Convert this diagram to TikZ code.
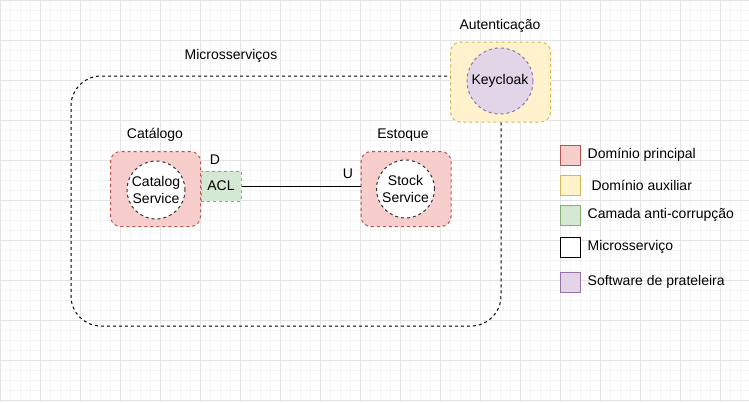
\documentclass[tikz,border=0pt]{standalone}
\usepackage{fontspec}
\setmainfont{Liberation Sans}
\usetikzlibrary{positioning}

\definecolor{gridmajor}{HTML}{E3E3E3}
\definecolor{gridminor}{HTML}{F4F4F4}
\definecolor{redfill}{HTML}{F8CECC}
\definecolor{redline}{HTML}{B85450}
\definecolor{yelfill}{HTML}{FFF2CC}
\definecolor{yelline}{HTML}{D6B656}
\definecolor{grnfill}{HTML}{D5E8D4}
\definecolor{grnline}{HTML}{82B366}
\definecolor{purfill}{HTML}{E1D5E7}
\definecolor{purline}{HTML}{9673A6}

\begin{document}
\begin{tikzpicture}[x=1pt,y=-1pt,
	font=\fontsize{14}{17}\selectfont,
	dashbox/.style={draw,line width=1pt,dash pattern=on 3pt off 3pt,align=center,inner sep=0pt},
	domainbox/.style={dashbox,rounded corners=10pt,fill=redfill,draw=redline,minimum width=90pt,minimum height=75pt},
	service/.style={dashbox,circle,fill=white,draw=black!80,minimum size=58pt},
	legbox/.style={draw,line width=1pt,minimum size=20pt,inner sep=0pt},
	legtext/.style={anchor=west,inner sep=0pt}]
			\useasboundingbox (0,0) rectangle (749,402);
			\draw[step=10pt,gridminor,line width=1pt] (0,0) grid (749,402);
			\draw[step=40pt,gridmajor,line width=1pt] (0,0) grid (749,402);
			% microservices frame
			\node[dashbox,rounded corners=30pt,minimum width=430pt,minimum height=250pt] (micro) at (286,201) {};
			\node (microlbl) at (231,56) {Microsserviços};
			% authentication
			\node[dashbox,rounded corners=10pt,fill=yelfill,draw=yelline,minimum width=100pt,minimum height=80pt] (auth) at (500.5,82) {};
			\node[dashbox,circle,fill=purfill,draw=purline,minimum size=66pt] (keycloak) at (500,81) {Keycloak};
			\node (authlbl) at (500,26) {Autenticação};
			% catalog
			\node[domainbox] (catalog) at (155.5,189) {};
			\node[service] (catsvc) at (156,190) {Catalog\\Service};
			\node (catlbl) at (155,135) {Catálogo};
			\node[dashbox,fill=grnfill,draw=grnline,minimum width=40pt,minimum height=30pt] (acl) at (221,186) {ACL};
			\node (dlbl) at (215,160) {D};
			% stock
			\node[domainbox] (stock) at (406,189) {};
			\node[service] (stocksvc) at (405.5,189) {Stock\\Service};
			\node (stocklbl) at (403,135) {Estoque};
			\node (ulbl) at (348,174) {U};
			\draw[line width=1pt] (acl.east) -- (acl.east -| stock.west);
			% legend
			\foreach \y/\f/\d/\t [count=\i] in {155/redfill/redline/Domínio principal,185/yelfill/yelline/\ Domínio auxiliar,215/grnfill/grnline/Camada anti-corrupção,247/white/black/Microsserviço,282/purfill/purline/Software de prateleira}
			{
				\node[legbox,fill=\f,draw=\d] (leg\i) at (570,\y) {};
				\node[legtext,right=7pt of leg\i] (legt\i) {\t};
			}
		\end{tikzpicture}
\end{document}
